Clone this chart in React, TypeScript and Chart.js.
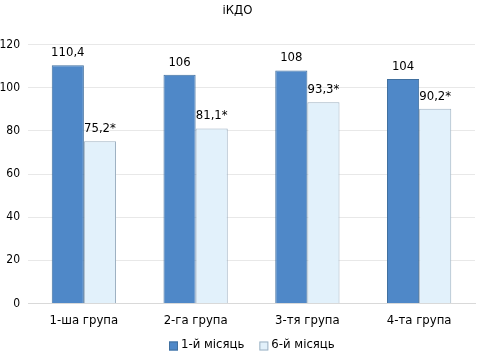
import React, { useEffect, useRef } from "react";
import { Chart, registerables } from "chart.js";

Chart.register(...registerables);

const categories = ["1-ша група", "2-га група", "3-тя група", "4-та група"];
const month1 = [110.4, 106, 108, 104];
const month6 = [75.2, 81.1, 93.3, 90.2];
const month1Labels = ["110,4", "106", "108", "104"];
const month6Labels = ["75,2*", "81,1*", "93,3*", "90,2*"];
const seriesNames = ["1-й місяць", "6-й місяць"];
const yTicks = [0, 20, 40, 60, 80, 100, 120];

const FONT = "'DejaVu Sans Condensed', 'Liberation Sans Narrow', sans-serif";

const valueLabels = {
  id: "valueLabels",
  afterDatasetsDraw(chart: any) {
    const ctx = chart.ctx;
    const labelSets = [month1Labels, month6Labels];
    ctx.save();
    ctx.font = `13px ${FONT}`;
    ctx.fillStyle = "#000";
    ctx.textAlign = "center";
    ctx.textBaseline = "bottom";
    chart.data.datasets.forEach((_: any, di: number) => {
      const meta = chart.getDatasetMeta(di);
      meta.data.forEach((bar: any, i: number) => {
        ctx.fillText(labelSets[di][i], bar.x, bar.y - 6);
      });
    });
    ctx.restore();
  },
};

const bottomLegend = {
  id: "bottomLegend",
  afterDraw(chart: any) {
    const ctx = chart.ctx;
    const ds = chart.data.datasets;
    const box = 9;
    const gap = 3;
    const itemGap = 15;
    const cy = 345;
    const cx = 252;
    ctx.save();
    ctx.font = `13px ${FONT}`;
    const widths = ds.map((d: any) => box + gap + ctx.measureText(d.label).width);
    const total = widths.reduce((a: number, b: number) => a + b, 0) + itemGap * (ds.length - 1);
    let x = Math.round(cx - total / 2);
    ds.forEach((d: any, i: number) => {
      ctx.fillStyle = d.backgroundColor;
      ctx.fillRect(x, cy - box / 2 + 1, box, box);
      ctx.strokeStyle = d.borderColor;
      ctx.lineWidth = 1;
      ctx.strokeRect(x + 0.5, cy - box / 2 + 1.5, box - 1, box - 1);
      ctx.fillStyle = "#000";
      ctx.textAlign = "left";
      ctx.textBaseline = "middle";
      ctx.fillText(d.label, x + box + gap, cy);
      x += widths[i] + itemGap;
    });
    ctx.restore();
  },
};

export default function App() {
  const ref = useRef<HTMLCanvasElement>(null);
  useEffect(() => {
    if (!ref.current) return;
    const chart = new Chart(ref.current, {
      type: "bar",
      data: {
        labels: categories,
        datasets: [
          {
            label: seriesNames[0],
            data: month1,
            backgroundColor: "#4f88c8",
            borderColor: "#41709f",
            borderWidth: 1,
          },
          {
            label: seriesNames[1],
            data: month6,
            backgroundColor: "#e2f1fb",
            borderColor: "#9eb1c2",
            borderWidth: 1,
          },
        ],
      },
      options: {
        animation: false,
        responsive: false,
        maintainAspectRatio: false,
        layout: { padding: { left: 0, right: 3, top: 0, bottom: 17 } },
        datasets: { bar: { categoryPercentage: 0.575, barPercentage: 1 } },
        plugins: {
          title: {
            display: true,
            text: "іКДО",
            color: "#000",
            font: { family: FONT, size: 13, weight: "normal" },
            padding: { top: 3, bottom: 26 },
          },
          legend: { display: false },
          tooltip: { enabled: false },
        },
        scales: {
          x: {
            grid: { display: false, drawTicks: false },
            border: { display: true, color: "#d9d9d9" },
            ticks: { color: "#000", font: { family: FONT, size: 13 }, padding: 9 },
          },
          y: {
            min: 0,
            max: 120,
            afterBuildTicks: (axis: any) => {
              axis.ticks = yTicks.map((v) => ({ value: v }));
            },
            afterFit: (axis: any) => {
              axis.width = 28;
            },
            grid: { color: "#e8e8e8", drawTicks: false },
            border: { display: false },
            ticks: { color: "#000", font: { family: FONT, size: 12 }, padding: 8 },
          },
        },
      },
      plugins: [valueLabels, bottomLegend],
    });
    return () => chart.destroy();
  }, []);
  return (
    <div style={{ position: "fixed", left: 0, top: 0, width: 478, height: 354, background: "#fff" }}>
      <canvas ref={ref} width={478} height={354} />
    </div>
  );
}
